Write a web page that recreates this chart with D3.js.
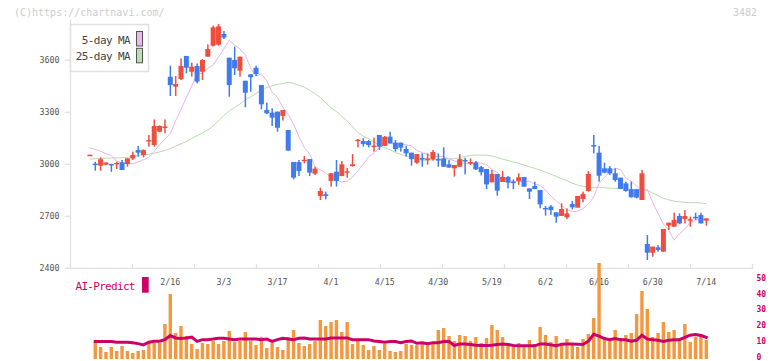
<!DOCTYPE html>
<html><head><meta charset="utf-8">
<script src="https://cdn.jsdelivr.net/npm/d3@7"></script>
<style>body{margin:0;background:#fff}svg{display:block}</style>
</head><body><svg id="c" width="772" height="361"></svg>
<script>
const dates = ["1/23","1/26","1/27","1/28","1/29","1/30",
"2/2","2/3","2/4","2/5","2/6","2/9","2/10","2/12","2/13","2/16","2/17","2/18","2/19","2/20","2/24","2/25","2/26","2/27",
"3/2","3/3","3/4","3/5","3/6","3/9","3/10","3/11","3/12","3/13","3/16","3/17","3/18","3/19","3/23","3/24","3/25","3/26","3/27","3/30","3/31",
"4/1","4/2","4/3","4/6","4/7","4/8","4/9","4/10","4/13","4/14","4/15","4/16","4/17","4/20","4/21","4/22","4/23","4/24","4/27","4/28","4/30",
"5/1","5/7","5/8","5/11","5/12","5/13","5/14","5/15","5/18","5/19","5/20","5/21","5/22","5/25","5/26","5/27","5/28","5/29",
"6/1","6/2","6/3","6/4","6/5","6/8","6/9","6/10","6/11","6/12","6/15","6/16","6/17","6/18","6/19","6/22","6/23","6/24","6/25","6/26","6/29","6/30",
"7/1","7/2","7/3","7/6","7/7","7/8","7/9","7/10","7/13","7/14"];
const open = [3052,3004,2992,2998,3002,3000,3011,3002,3034,3082,3054,3137,3111,3188,3215,3505,3448,3492,3625,3534,
3567,3534,3621,3684,3690,3752,3615,3602,3540,3482,3519,3557,3457,3313,3298,3304,3279,3198,3013,3013,
3023,3030,2946,2817,2827,2904,2957,2932,2955,2990,3138,3134,3134,3105,3169,3106,3159,3125,3125,3088,
3067,3009,3036,3030,3029,3030,3034,3000,2977,2986,3025,3009,3011,2984,2973,2896,2944,2898,2927,2900,
2904,2927,2861,2875,2852,2748,2756,2723,2702,2694,2771,2750,2800,2846,3111,3067,2977,2977,2948,2923,
2890,2856,2856,2794,2540,2490,2521,2496,2646,2640,2702,2684,2677,2697,2707,2675];
const high = [3056,3015,3040,3012,3003,3015,3025,3034,3073,3106,3086,3169,3259,3225,3259,3569,3509,3611,3625,3586,
3582,3607,3692,3800,3810,3769,3615,3679,3621,3482,3519,3569,3457,3356,3323,3304,3313,3198,3013,3025,
3048,3030,2986,2865,2842,2948,3025,3019,2980,3059,3146,3150,3140,3154,3169,3163,3188,3140,3125,3107,
3067,3059,3063,3063,3082,3063,3098,3025,2996,3059,3038,3034,3019,2990,2973,2967,2944,2961,2932,2913,
2948,2927,2861,2900,2852,2760,2765,2723,2775,2746,2788,2817,2842,2961,3169,3106,3009,2990,2977,2923,
2900,2900,2858,2967,2592,2525,2534,2627,2663,2721,2717,2736,2698,2721,2721,2688];
const low = [3050,2963,2963,2995,2957,2973,2967,2986,3025,3044,3040,3102,3102,3185,3179,3394,3394,3486,3525,3506,
3467,3486,3621,3680,3684,3723,3390,3515,3506,3329,3419,3509,3317,3290,3221,3188,3252,3079,2913,2932,
3006,2932,2938,2794,2798,2871,2871,2932,2923,2986,3098,3102,3098,3073,3083,3106,3121,3073,3073,3044,
2992,3002,2986,2998,3021,2986,2986,2981,2929,2986,2942,2996,2967,2936,2857,2896,2819,2898,2861,2856,
2881,2871,2800,2857,2746,2704,2708,2663,2702,2684,2740,2750,2781,2842,3063,2900,2948,2938,2900,2858,
2842,2808,2803,2794,2448,2467,2496,2496,2621,2640,2654,2659,2640,2679,2659,2646];
const close = [3055,3000,3029,3010,3000,3008,2967,3034,3054,3067,3082,3140,3221,3221,3218,3457,3463,3567,3557,3563,
3477,3602,3665,3790,3795,3731,3457,3554,3621,3413,3502,3521,3346,3294,3269,3211,3313,3079,2923,2961,
3026,2952,2975,2846,2817,2948,2904,3000,2960,3000,3142,3117,3111,3108,3102,3159,3121,3088,3096,3063,
3030,3059,3034,3034,3071,3027,2986,2981,2996,3030,3023,3013,2971,2954,2884,2944,2848,2927,2894,2897,
2925,2871,2842,2857,2769,2745,2736,2698,2742,2717,2752,2817,2829,2944,3107,2934,2952,2948,2909,2858,
2846,2810,2808,2948,2490,2525,2506,2627,2663,2679,2659,2702,2683,2694,2659,2688];
const volume = [null,17,12,7,12,8,13,8,6,8,9,16,16,16,35,65,26,33,23,15,10,
16,15,18,15,18,28,17,18,27,18,14,22,11,16,12,9,22,29,16,13,
15,18,39,33,37,39,27,37,15,18,14,9,13,9,15,8,7,8,15,14,
14,17,14,15,29,31,23,18,24,23,18,22,16,21,34,29,22,16,12,16,
12,19,15,32,24,17,23,14,20,16,12,20,25,41,96,20,21,29,21,24,
26,45,68,50,22,26,37,27,29,19,35,17,22,25,19];
const aiPredict = [null,9.9,9.9,9.9,9.9,9.5,9.5,9.5,9.1,8.6,7.8,
9.5,10.1,10.1,11.1,13.7,12.2,11.8,12.2,12.8,10.0,
11.1,11.1,11.5,12.0,12.0,11.5,11.1,11.5,11.5,11.5,
11.5,11.1,11.5,10.0,11.1,12.0,11.5,11.1,12.0,12.2,
11.5,11.5,11.5,11.5,12.2,12.2,12.2,12.2,11.1,11.1,
11.1,11.1,10.3,9.9,9.5,9.9,9.9,9.1,9.9,10.3,
8.8,9.1,8.6,9.1,9.1,9.9,9.9,7.4,8.4,8.4,
8.0,7.6,7.4,7.4,7.6,8.0,8.4,8.0,7.4,7.2,
7.2,7.2,7.2,8.4,8.4,7.8,7.2,8.2,8.4,8.4,
8.2,8.0,10.1,14.5,13.3,11.8,11.1,11.8,11.0,11.0,
10.1,10.7,13.9,11.5,11.1,10.7,9.9,10.7,11.0,11.1,
12.5,13.9,14.3,13.7,12.5];
// moving average values before enough history is on screen
const ma5Head = [3095,3086,3075,3062,3050];
const ma25Head = [3030,3032,3034,3035,3036,3037,3038,3040,3044,3050,3054,3058,3064,3071,3080,3090,3105,3118,3132,3150,3165,3180,3198,3221,3250];
const yTicks = [2400,2700,3000,3300,3600];
const xLabels = ["2/16","3/3","3/17","4/1","4/15","4/30","5/19","6/2","6/16","6/30","7/14"];
const aiTicks = [0,10,20,30,40,50];

const RED = "#f04d3d", BLUE = "#3f7bee", ORANGE = "#f5983d", MAG = "#cc0066";
const FONT = "'DejaVu Sans Mono', monospace";

const svg = d3.select("#c");
const n = close.length;
const x = d3.scaleLinear().domain([-3.71, 123.53]).range([70, 752]);
const y = d3.scaleLinear().domain([2400, 3600]).range([268.3, 60.3]);
const yv = d3.scaleLinear().domain([0, 100]).range([359, 259]);
const ya = d3.scaleLinear().domain([0, 50]).range([357.2, 278.2]);
const grid = d3.scaleLinear().domain([0, 11]).range([70, 752]);

// moving averages (previous N sessions)
const ma5 = close.map((c, i) => i < ma5Head.length ? ma5Head[i] : d3.mean(close.slice(i - 5, i)));
const ma25 = close.map((c, i) => i < ma25Head.length ? ma25Head[i] : d3.mean(close.slice(i - 25, i)));

// watermark
svg.append("text").attr("x", 14).attr("y", 16).attr("font-family", FONT).attr("font-size", 10)
  .attr("fill", "#cccccc").text("(C)https://chartnavi.com/");
svg.append("text").attr("x", 757).attr("y", 16).attr("text-anchor", "end").attr("font-family", FONT)
  .attr("font-size", 10).attr("fill", "#cccccc").text("3482");

// axes
const axisCol = "#e2e2e2";
svg.append("line").attr("x1", 70.5).attr("x2", 70.5).attr("y1", 20).attr("y2", 268.3)
  .attr("stroke", axisCol).attr("stroke-width", 1.3);
svg.append("line").attr("x1", 65).attr("x2", 752.3).attr("y1", 268.3).attr("y2", 268.3)
  .attr("stroke", axisCol).attr("stroke-width", 1.3);
svg.selectAll(".gt").data(d3.range(12)).join("line")
  .attr("x1", d => grid(d) + 0.5).attr("x2", d => grid(d) + 0.5)
  .attr("y1", 264).attr("y2", 269).attr("stroke", axisCol).attr("stroke-width", 1.3);
svg.selectAll(".yt").data(yTicks).join("line")
  .attr("x1", 65).attr("x2", 70).attr("y1", d => y(d)).attr("y2", d => y(d))
  .attr("stroke", axisCol).attr("stroke-width", 1.3);
svg.selectAll(".yl").data(yTicks).join("text")
  .attr("x", 59.5).attr("y", d => y(d) + 3).attr("text-anchor", "end")
  .attr("font-family", FONT).attr("font-size", 8.3).attr("fill", "#555").text(d => d);
svg.selectAll(".xl").data(xLabels).join("text")
  .attr("x", d => x(dates.indexOf(d))).attr("y", 285).attr("text-anchor", "middle")
  .attr("font-family", FONT).attr("font-size", 8.3).attr("fill", "#555").text(d => d);

// MA lines
const lineFn = arr => d3.line().x((d, i) => x(i)).y(d => y(d))(arr);
svg.append("path").attr("d", lineFn(ma25)).attr("fill", "none").attr("stroke", "#b6dcae").attr("stroke-width", 1);
svg.append("path").attr("d", lineFn(ma5)).attr("fill", "none").attr("stroke", "#e9b4ea").attr("stroke-width", 1);

// candles
const idx = d3.range(n);
const col = i => close[i] >= open[i] ? RED : BLUE;
svg.selectAll(".wick").data(idx).join("rect")
  .attr("x", i => x(i) - 0.7).attr("width", 1.5)
  .attr("y", i => y(high[i])).attr("height", i => Math.max(1, y(low[i]) - y(high[i])))
  .attr("fill", col);
svg.selectAll(".body").data(idx).join("rect")
  .attr("x", i => x(i) - 2.5).attr("width", 5)
  .attr("y", i => y(Math.max(open[i], close[i])))
  .attr("height", i => Math.max(1.5, Math.abs(y(open[i]) - y(close[i]))))
  .attr("fill", col);

// legend
const lg = svg.append("g");
lg.append("rect").attr("x", 70.5).attr("y", 24.5).attr("width", 78).attr("height", 47)
  .attr("fill", "#fff").attr("stroke", "#e0e0e0").attr("stroke-width", 1.5);
const legendItems = [["5-day MA", "#ebb8ec"], ["25-day MA", "#bcddb2"]];
legendItems.forEach((d, k) => {
  lg.append("text").attr("x", 130).attr("y", 43.5 + k * 16.5).attr("text-anchor", "end")
    .attr("font-family", FONT).attr("font-size", 11).attr("letter-spacing", -0.6)
    .attr("fill", "#444").text(d[0]);
  lg.append("rect").attr("x", 136.5).attr("y", 31.5 + k * 16.8).attr("width", 6).attr("height", 14.5)
    .attr("fill", d[1]).attr("stroke", "#555").attr("stroke-width", 1);
});

// lower panel: volume bars
svg.selectAll(".vol").data(idx.filter(i => volume[i] != null)).join("rect")
  .attr("x", i => x(i) - 1.7).attr("width", 3.4)
  .attr("y", i => yv(volume[i])).attr("height", i => yv(0) - yv(volume[i]))
  .attr("fill", ORANGE);

// AI-Predict line
const aiLine = d3.line().defined(d => d != null).x((d, i) => x(i)).y(d => ya(d));
svg.append("path").attr("d", aiLine(aiPredict)).attr("fill", "none").attr("stroke", MAG)
  .attr("stroke-width", 3).attr("stroke-linejoin", "miter").attr("stroke-linecap", "square");

svg.append("text").attr("x", 75.5).attr("y", 290).attr("font-family", FONT).attr("font-size", 11)
  .attr("letter-spacing", -0.7).attr("fill", MAG).text("AI-Predict");
svg.append("rect").attr("x", 142).attr("y", 277).attr("width", 6.7).attr("height", 15.7).attr("fill", MAG);

svg.selectAll(".al").data(aiTicks).join("text")
  .attr("x", 756.5).attr("y", d => ya(d) + 2.6).attr("font-family", FONT).attr("font-size", 8)
  .attr("font-weight", "bold").attr("fill", MAG).text(d => d);
</script>
</body></html>
